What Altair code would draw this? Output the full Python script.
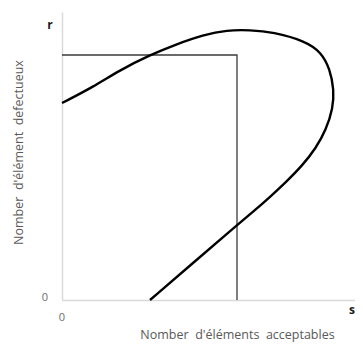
import altair as alt
import pandas as pd

# curve (x = acceptables, y = défectueux), in drawing order
curve_x = [0, 31, 58, 88, 115, 141, 165, 188, 211, 243, 259, 268, 272, 271, 264, 254, 240, 224, 208, 192, 174, 131, 88]
curve_y = [197, 213, 230, 245, 256, 265, 270, 270, 268, 259, 248, 231, 210, 192, 170, 152, 134, 118, 103, 89, 74, 37, 0]

# reference lines (horizontal then vertical)
ref_x = [0, 175, 175]
ref_y = [245, 245, 0]

# end labels
lab_text = ["r", "0", "0", "s"]
lab_x = [-12, -17, 0, 290]
lab_y = [275, 2, -18, -10]
lab_kind = ["end", "zero", "zero", "end"]

curve = pd.DataFrame({"x": curve_x, "y": curve_y, "o": range(len(curve_x))})
ref = pd.DataFrame({"x": ref_x, "y": ref_y, "o": range(len(ref_x))})
labs = pd.DataFrame({"t": lab_text, "x": lab_x, "y": lab_y, "k": lab_kind})

xs = alt.Scale(domain=[0, 293], nice=False, zero=False)
ys = alt.Scale(domain=[0, 288], nice=False, zero=False)

sp = "\u00a0 "
xax = alt.Axis(labels=False, ticks=False, grid=False, domainColor="#d9d9d9", domainWidth=1.5,
               title="Nomber" + sp + "d'éléments" + sp + "acceptables", titleFont="Open Sans", titleFontSize=12.5,
               titleFontWeight="normal", titleColor="#595959", titlePadding=28, titleX=175)
yax = alt.Axis(labels=False, ticks=False, grid=False, domainColor="#d9d9d9", domainWidth=1.5,
               title="Nomber" + sp + "d'élément" + sp + "defectueux", titleFont="Open Sans", titleFontSize=12.5,
               titleFontWeight="normal", titleColor="#595959", titlePadding=37, titleY=140)

base_curve = alt.Chart(curve).mark_line(color="black", strokeWidth=2.4, interpolate="basis").encode(
    x=alt.X("x:Q", scale=xs, axis=xax),
    y=alt.Y("y:Q", scale=ys, axis=yax),
    order="o:Q",
)

ref_line = alt.Chart(ref).mark_line(color="#3a3a3a", strokeWidth=1.3).encode(
    x=alt.X("x:Q", scale=xs),
    y=alt.Y("y:Q", scale=ys),
    order="o:Q",
)

zero_lab = alt.Chart(labs[labs.k == "zero"]).mark_text(
    font="Open Sans", fontSize=11, color="#6b6b6b", align="center", baseline="middle"
).encode(x=alt.X("x:Q", scale=xs), y=alt.Y("y:Q", scale=ys), text="t:N")

end_lab = alt.Chart(labs[labs.k == "end"]).mark_text(
    font="Open Sans", fontSize=12, fontWeight="bold", color="#1a1a1a", align="center", baseline="middle"
).encode(x=alt.X("x:Q", scale=xs), y=alt.Y("y:Q", scale=ys), text="t:N")

chart = alt.layer(ref_line, base_curve, zero_lab, end_lab).properties(
    width=293, height=288,
    autosize=alt.AutoSizeParams(type="none"),
    padding={"left": 54, "top": 4, "right": 0, "bottom": 42},
).configure_view(stroke=None)

chart.save("out.html", embed_options={"renderer": "svg", "actions": False})
